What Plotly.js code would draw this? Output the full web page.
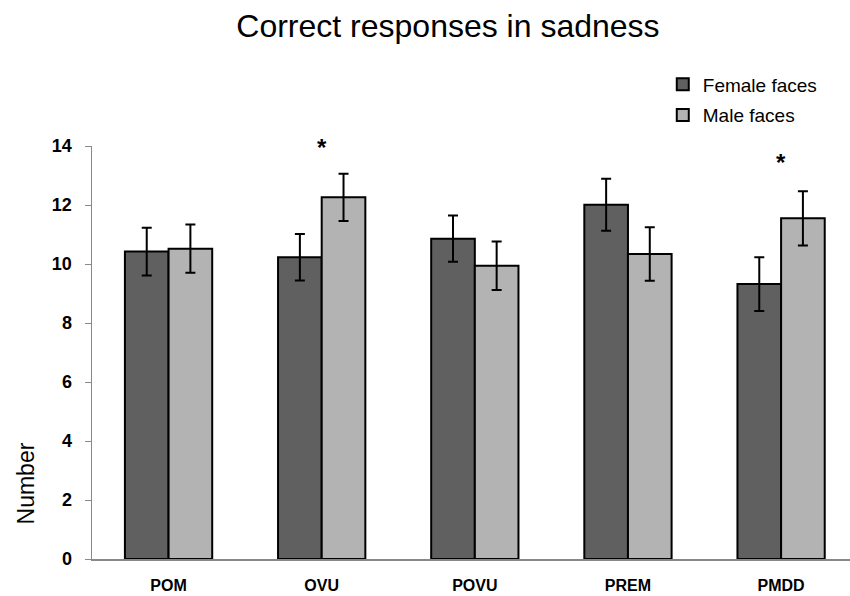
<!DOCTYPE html>
<html>
<head>
<meta charset="utf-8">
<script src="https://cdn.plot.ly/plotly-3.0.1.min.js"></script>
<style>html,body{margin:0;padding:0;background:#fff;}#chart{width:850px;height:596px;}</style>
</head>
<body>
<div id="chart"></div>
<script>
const categories = ["POM", "OVU", "POVU", "PREM", "PMDD"];
const femaleValues = [10.42, 10.23, 10.86, 12.01, 9.32];
const femaleErrors = [0.81, 0.79, 0.78, 0.88, 0.91];
const maleValues = [10.52, 12.26, 9.94, 10.34, 11.55];
const maleErrors = [0.82, 0.80, 0.82, 0.91, 0.92];
const seriesNames = ["Female faces", "Male faces"];
const significance = [
  {category: "OVU", y: 13.95, text: "*"},
  {category: "PMDD", y: 13.45, text: "*"}
];
const yTicks = [0, 2, 4, 6, 8, 10, 12, 14];

const FONT = "Liberation Sans, Arial, sans-serif";

const traces = [
  {
    type: "bar", name: seriesNames[0], x: categories, y: femaleValues, legendgroup: "f",
    marker: {color: "#606060", line: {color: "#000", width: 2}},
    error_y: {type: "data", array: femaleErrors, visible: true, color: "#000", thickness: 2, width: 5}
  },
  {
    type: "bar", name: seriesNames[1], x: categories, y: maleValues, legendgroup: "m",
    marker: {color: "#b3b3b3", line: {color: "#000", width: 2}},
    error_y: {type: "data", array: maleErrors, visible: true, color: "#000", thickness: 2, width: 5}
  }
];

const layout = {
  width: 850, height: 596,
  paper_bgcolor: "#fff", plot_bgcolor: "#fff",
  margin: {l: 92, r: 0, t: 146, b: 37},
  title: {text: "Correct responses in sadness", font: {family: FONT, size: 32, color: "#000"},
          x: 0.527, xref: "container", xanchor: "center", y: 0.956, yref: "container", yanchor: "middle"},
  barmode: "group", bargap: 0.43, bargroupgap: 0,
  showlegend: true,
  legend: {x: 0.753, y: 1.195, xanchor: "left", yanchor: "top",
           font: {family: FONT, size: 19, color: "#000"}, bgcolor: "rgba(0,0,0,0)",
           traceorder: "grouped", tracegroupgap: 3},
  xaxis: {
    type: "category", range: [-0.5, 4.45], showgrid: false, zeroline: false,
    showline: true, linecolor: "#888", linewidth: 1.5, ticks: "",
    tickfont: {family: FONT, size: 16, color: "#000", weight: "bold"},
    ticklabelstandoff: 11
  },
  yaxis: {
    range: [0, 14], tickvals: yTicks, showgrid: false, zeroline: false,
    showline: true, linecolor: "#888", linewidth: 1.5, ticks: "outside", ticklen: 6, tickcolor: "#888",
    tickfont: {family: FONT, size: 18, color: "#000", weight: "bold"},
    ticklabelstandoff: 9
  },
  annotations: significance.map(s => ({
    x: s.category, y: s.y, xref: "x", yref: "y", text: s.text, showarrow: false,
    font: {family: FONT, size: 24, color: "#000", weight: "bold"}
  })).concat([{
    text: "Number", xref: "paper", yref: "paper", x: -0.087, y: 0.183,
    xanchor: "center", yanchor: "middle", textangle: -90, showarrow: false,
    font: {family: FONT, size: 23, color: "#000"}
  }])
};

Plotly.newPlot("chart", traces, layout, {displayModeBar: false, staticPlot: true});
</script>
</body>
</html>
